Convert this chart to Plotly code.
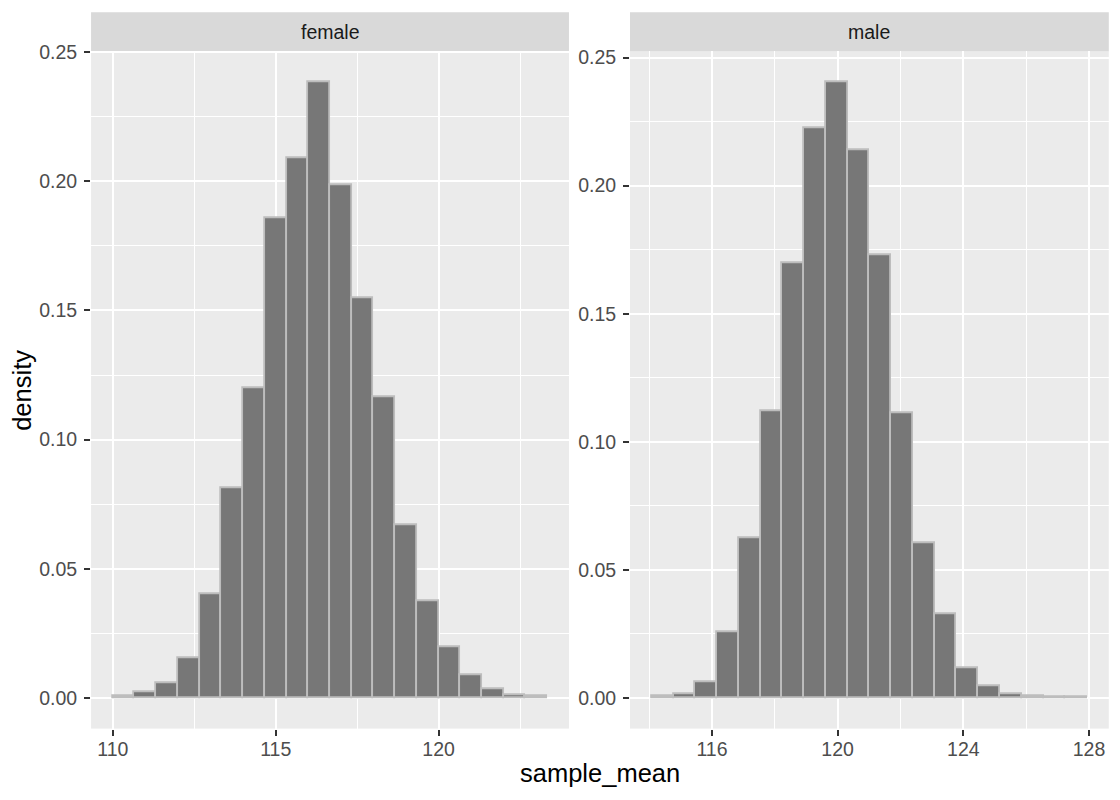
import numpy as np
import plotly.graph_objects as go

# histogram densities (20 bins per panel)
female_density = [0.0005, 0.0020, 0.0055, 0.0155, 0.0400, 0.0810, 0.1200, 0.1857, 0.2091, 0.2385,
                  0.1985, 0.1548, 0.1165, 0.0670, 0.0375, 0.0195, 0.0089, 0.0034, 0.0009, 0.0006]
male_density = [0.0005, 0.0016, 0.0061, 0.0256, 0.0624, 0.1120, 0.1697, 0.2224, 0.2405, 0.2140,
                0.1727, 0.1110, 0.0605, 0.0328, 0.0117, 0.0044, 0.0014, 0.0008, 0.0004, 0.0004]

female_first_break = 110.0
female_binwidth = 0.6667
male_first_break = 114.085
male_binwidth = 0.6926

female_xticks = [110, 115, 120]
female_xminor = [112.5, 117.5, 122.5]
male_xticks = [116, 120, 124, 128]
male_xminor = [114, 118, 122, 126]
y_ticks = [0.0, 0.05, 0.10, 0.15, 0.20, 0.25]

panels = ["female", "male"]

fill_col = "#777777"
edge_col = "#bdbdbd"
panel_bg = "#EBEBEB"
strip_bg = "#D9D9D9"
tick_col = "#4D4D4D"
font_fam = "Liberation Sans, Arial, sans-serif"


def centers(start, width, n):
    return start + width * (np.arange(n) + 0.5)


fig = go.Figure()

fig.add_trace(go.Bar(
    x=centers(female_first_break, female_binwidth, len(female_density)),
    y=female_density,
    width=female_binwidth,
    marker=dict(color=fill_col, line=dict(color=edge_col, width=1.8)),
    xaxis="x", yaxis="y", showlegend=False,
))
fig.add_trace(go.Bar(
    x=centers(male_first_break, male_binwidth, len(male_density)),
    y=male_density,
    width=male_binwidth,
    marker=dict(color=fill_col, line=dict(color=edge_col, width=1.8)),
    xaxis="x2", yaxis="y2", showlegend=False,
))

# panel geometry (paper coords)
x_dom = [(0.0813, 0.508), (0.5625, 0.990)]
y_dom = (0.0904, 0.9479)
strip_top = 0.9972

common_axis = dict(
    showgrid=True, gridcolor="white", gridwidth=2,
    zeroline=False, showline=False,
    ticks="outside", ticklen=6, tickwidth=2, tickcolor="#333333",
    tickfont=dict(family=font_fam, size=19.5, color=tick_col),
)
minor_grid = dict(showgrid=True, gridcolor="white", gridwidth=1, ticklen=0)


def ext(lo, hi, f=0.05):
    r = hi - lo
    return [lo - f * r, hi + f * r]


f_lo = female_first_break
f_hi = female_first_break + female_binwidth * len(female_density)
m_lo = male_first_break
m_hi = male_first_break + male_binwidth * len(male_density)

fig.update_layout(
    width=1120, height=800,
    margin=dict(l=0, r=0, t=0, b=0),
    paper_bgcolor="white", plot_bgcolor=panel_bg,
    bargap=0,
    xaxis=dict(domain=x_dom[0], range=ext(f_lo, f_hi), tickvals=female_xticks,
               minor=dict(tickvals=female_xminor, **minor_grid),
               anchor="y", ticklabelstandoff=-3, **common_axis),
    yaxis=dict(domain=y_dom, range=ext(0, max(female_density)), tickvals=y_ticks, tickformat=".2f",
               minor=dict(dtick=0.025, tick0=0.025, **minor_grid),
               anchor="x", ticklabelstandoff=3, **common_axis),
    xaxis2=dict(domain=x_dom[1], range=ext(m_lo, m_hi), tickvals=male_xticks,
                minor=dict(tickvals=male_xminor, **minor_grid),
                anchor="y2", ticklabelstandoff=-3, **common_axis),
    yaxis2=dict(domain=y_dom, range=ext(0, max(male_density)), tickvals=y_ticks, tickformat=".2f",
                minor=dict(dtick=0.025, tick0=0.025, **minor_grid),
                anchor="x2", ticklabelstandoff=3, **common_axis),
)

shapes = []
annotations = []
for (x0, x1), name in zip(x_dom, panels):
    shapes.append(dict(type="rect", xref="paper", yref="paper", x0=x0, x1=x1,
                       y0=y_dom[1], y1=strip_top, fillcolor=strip_bg, line=dict(width=0), layer="below"))
    annotations.append(dict(text=name, xref="paper", yref="paper", x=(x0 + x1) / 2,
                            y=(y_dom[1] + strip_top) / 2, xanchor="center", yanchor="middle",
                            showarrow=False, font=dict(family=font_fam, size=19.5, color="#1A1A1A")))

annotations.append(dict(text="sample_mean", xref="paper", yref="paper", x=(x_dom[0][0] + x_dom[1][1]) / 2,
                        y=0.034, xanchor="center", yanchor="middle", showarrow=False,
                        font=dict(family=font_fam, size=25.5, color="black")))
annotations.append(dict(text="density", xref="paper", yref="paper", x=0.0196, y=(y_dom[0] + y_dom[1]) / 2,
                        xanchor="center", yanchor="middle", textangle=-90, showarrow=False,
                        font=dict(family=font_fam, size=25.5, color="black")))

fig.update_layout(shapes=shapes, annotations=annotations)

# pin the plot to the page corner so nothing is offset by page margins
pin = ("document.body.style.margin='0';"
       "var d=document.getElementById('{plot_id}');"
       "d.style.position='absolute';d.style.top='0px';d.style.left='0px';")
fig.write_html("out.html", config={"displayModeBar": False}, post_script=pin)
